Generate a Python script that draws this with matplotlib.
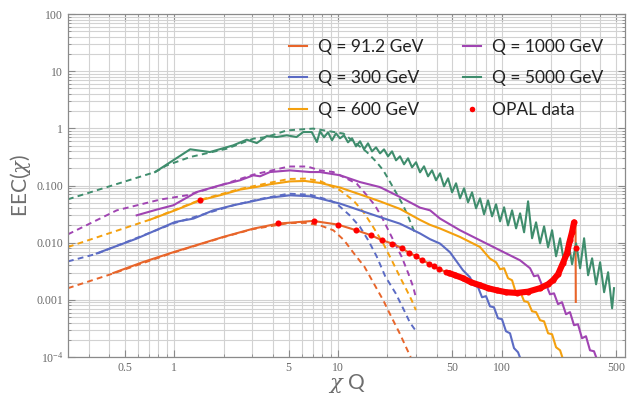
import matplotlib.pyplot as plt
from matplotlib.ticker import FixedLocator, FixedFormatter, LogLocator, NullFormatter
from matplotlib.lines import Line2D

plt.rcParams['font.family'] = ['Liberation Serif', 'DejaVu Serif']
plt.rcParams['mathtext.fontset'] = 'custom'
plt.rcParams['mathtext.rm'] = 'Lato'
plt.rcParams['mathtext.it'] = 'DejaVu Serif:italic'

# ---- data (x = chi*Q, y = EEC) ----
# Q = 91.2 GeV
q91_x = [0.424, 0.647, 1.0, 1.99, 3.04, 4.32, 7.06, 10.0, 12.9, 15.8, 18.6, 21.5, 24.5, 27.1, 30.0,
         32.7, 36.0, 41.4, 47.6, 58.0, 73.7, 93.1, 123.6, 171.4, 205.6, 236.7, 261.0, 276.6, 282.5, 283.5]
q91_y = [0.00295, 0.0046, 0.0069, 0.0126, 0.0176, 0.0216, 0.0240, 0.0207, 0.0165, 0.0136, 0.0110, 0.00964,
         0.0080, 0.0067, 0.00578, 0.00492, 0.00431, 0.00343, 0.00295, 0.00239, 0.0018, 0.00147, 0.00132,
         0.0016, 0.0022, 0.00441, 0.011, 0.0227, 0.021, 0.00092]
q91_dash_x = [0.224, 0.424, 1.0, 2.0, 3.0, 5.0, 6.3, 7.76, 9.36, 10.9, 12.5, 14.5, 16.6, 18.9, 21.2, 23.8, 26.6, 27.8]
q91_dash_y = [0.0016, 0.0029, 0.0068, 0.0125, 0.0172, 0.022, 0.0222, 0.0201, 0.0165, 0.011, 0.0065, 0.0038,
              0.0019, 0.00098, 0.0005, 0.00026, 0.00013, 0.0001]

# Q = 300 GeV
q300_x = [0.336, 0.589, 1.01, 1.31, 1.73, 2.29, 3.34, 3.84, 5.09, 6.75, 7.76, 10.3, 13.6, 18.0, 23.9, 31.7,
          36.5, 42.0, 48.3, 58.0, 64.0, 67.7, 71.7, 75.8, 80.2, 84.8, 89.7, 94.9, 100.4, 106.2, 112.4, 118.9,
          125.8, 131.2]
q300_y = [0.0065, 0.0118, 0.023, 0.0264, 0.0368, 0.0451, 0.0567, 0.0614, 0.0674, 0.0648, 0.059, 0.0482,
          0.0368, 0.0281, 0.0215, 0.0145, 0.0115, 0.00964, 0.0068, 0.00329, 0.00248, 0.0018, 0.00166,
          0.00111, 0.00116, 0.00077, 0.00074, 0.000476, 0.000458, 0.000282, 0.00026, 0.000143, 0.000121,
          0.000088]
q300_dash_x = [0.224, 0.336, 1.0, 2.29, 3.34, 5.0, 6.75, 8.93, 9.82, 11.8, 13.6, 15.3, 17.2, 19.4, 22.5,
               25.3, 27.5, 29.8]
q300_dash_y = [0.0047, 0.0064, 0.022, 0.045, 0.058, 0.072, 0.069, 0.055, 0.048, 0.030, 0.019, 0.011,
               0.0058, 0.0026, 0.0013, 0.00066, 0.00040, 0.00029]

# Q = 600 GeV
q600_x = [0.711, 1.01, 1.436, 1.90, 2.52, 3.34, 3.84, 5.09, 6.29, 7.76, 10.3, 13.6, 18.0, 23.9, 31.7, 36.5,
          42.0, 55.6, 73.7, 84.7, 92.4, 97.7, 103.4, 109.3, 115.7, 122.4, 129.5, 137.0, 144.9, 153.3, 162.1,
          171.5, 181.5, 192.0, 203.1, 214.8, 227.3, 240.4]
q600_y = [0.0253, 0.0368, 0.0551, 0.0674, 0.0848, 0.0968, 0.105, 0.118, 0.120, 0.111, 0.092, 0.070, 0.053,
          0.039, 0.025, 0.0205, 0.0177, 0.0126, 0.0084, 0.00527, 0.00454, 0.00343, 0.00357, 0.00239, 0.0022,
          0.0013, 0.00141, 0.00095, 0.00091, 0.00063, 0.00061, 0.00044, 0.00042, 0.00026, 0.00025,
          0.000148, 0.000131, 0.00008]
q600_dash_x = [0.224, 0.711, 1.436, 2.52, 3.84, 5.0, 6.3, 7.76, 10.3, 12.4, 14.3, 16.4, 18.9, 21.3, 23.9,
               26.3, 28.2, 29.9]
q600_dash_y = [0.0084, 0.0253, 0.056, 0.087, 0.112, 0.13, 0.132, 0.12, 0.0824, 0.055, 0.0344, 0.0188,
               0.00964, 0.00492, 0.00251, 0.00147, 0.00098, 0.00066]

# Q = 1000 GeV
q1000_x = [0.589, 0.781, 0.986, 1.37, 1.90, 2.52, 3.04, 3.34, 3.84, 5.09, 6.75, 7.76, 10.3, 13.6, 18.0,
           23.9, 31.7, 36.5, 42.0, 55.6, 73.7, 97.5, 129.4, 149.0, 157.5, 166.7, 176.3, 186.5, 197.2, 208.7,
           220.8, 233.5, 247.0, 261.3, 276.4, 292.4, 309.4, 327.2, 346.2, 366.3, 387.4]
q1000_y = [0.0301, 0.0379, 0.0451, 0.0769, 0.1008, 0.1233, 0.1508, 0.145, 0.172, 0.184, 0.172, 0.172, 0.151,
           0.115, 0.094, 0.063, 0.041, 0.0368, 0.0264, 0.0165, 0.011, 0.00736, 0.00492, 0.00357, 0.00259,
           0.00269, 0.0018, 0.00187, 0.00125, 0.0013, 0.00084, 0.00091, 0.00056, 0.00061, 0.00036, 0.000374,
           0.000213, 0.000231, 0.000131, 0.000126, 0.000081]
q1000_dash_x = [0.224, 0.445, 0.818, 1.19, 1.9, 3.04, 5.0, 6.5, 7.76, 9.36, 13.0, 15.0, 16.8, 18.5, 20.3,
                22.3, 24.5, 26.9, 28.8, 29.9]
q1000_dash_y = [0.014, 0.0368, 0.0567, 0.0674, 0.1, 0.155, 0.215, 0.215, 0.184, 0.172, 0.108, 0.0674,
                0.045, 0.0281, 0.0165, 0.00964, 0.00564, 0.00288, 0.00168, 0.0011]

# Q = 5000 GeV
q5000_x = [0.763, 1.25, 1.65, 2.29, 2.77, 3.19, 3.67, 4.22, 4.86, 5.58, 6.13, 6.91, 7.43,
           7.76, 8.21, 8.69, 9.19, 9.72, 10.28, 10.88, 11.51, 12.18, 12.88, 13.63, 14.42, 15.25, 16.13,
           17.07, 18.06, 19.10, 20.21, 21.38, 22.61, 23.92, 25.31, 26.77, 28.32, 29.96, 31.70, 33.53, 35.48,
           37.53, 39.71, 42.00, 44.43, 47.01, 49.73, 52.61, 55.65, 58.88, 62.28, 65.89, 69.70, 73.74, 78.01,
           82.53, 87.31, 92.36, 97.71, 103.4, 109.3, 115.7, 122.4, 129.5, 137.0, 144.9, 153.3, 162.1, 171.5,
           181.5, 192.0, 203.1, 214.8, 227.3, 240.4, 254.4, 269.1, 284.7, 301.2, 318.6, 337.1, 356.6, 377.2,
           399.1, 422.2, 446.6, 472.5, 485.3]
q5000_y = [0.172, 0.43, 0.385, 0.504, 0.634, 0.553, 0.733, 0.705, 0.755, 0.705, 0.862, 0.862, 0.576,
           0.887, 0.697, 0.852, 0.617, 0.818, 0.669, 0.755, 0.569, 0.669, 0.484,
           0.593, 0.429, 0.547, 0.396, 0.465, 0.365, 0.429, 0.324, 0.396, 0.276,
           0.324, 0.235, 0.299, 0.208, 0.255, 0.170, 0.2166, 0.1448, 0.1844, 0.1233,
           0.1634, 0.0968, 0.1336, 0.076, 0.1093, 0.0597, 0.0893, 0.0508, 0.076, 0.040,
           0.0597, 0.0313, 0.0551, 0.0289, 0.0469, 0.0236, 0.0416, 0.0201, 0.0368, 0.0178,
           0.0326, 0.0152, 0.0529, 0.01194, 0.0227, 0.00975, 0.0193, 0.0083, 0.0165, 0.00578,
           0.01194, 0.00454, 0.0110, 0.00419, 0.00975, 0.00356, 0.01194, 0.00269, 0.00533, 0.00187,
           0.00454, 0.00136, 0.00304, 0.00071, 0.0016]
q5000_dash_x = [0.224, 0.763, 0.9, 1.25, 2.09, 3.04, 3.67, 4.86, 7.06, 10.8, 15.0, 17.2, 18.9, 20.8, 22.8,
                25.0, 26.9, 29.3]
q5000_dash_y = [0.0574, 0.172, 0.2255, 0.315, 0.44, 0.66, 0.705, 0.92, 0.99, 0.81, 0.385, 0.257, 0.184,
                0.115, 0.0722, 0.045, 0.0281, 0.0154]

# OPAL data
opal_x = [1.436, 4.32, 7.17, 10.0, 12.9, 15.8, 18.6, 21.5, 24.5, 27.1, 30.0, 32.7, 36.0, 38.6, 41.4, 45.5,
          47.6, 51.9, 58.0, 64.9, 73.7, 82.5, 93.1, 106.2, 123.6, 144.8, 171.4, 191.8, 205.6, 220.8, 236.7,
          250.5, 261.0, 268.7, 276.6, 283.3]
opal_y = [0.055, 0.0221, 0.024, 0.0207, 0.0165, 0.0136, 0.0110, 0.00964, 0.0080, 0.0067, 0.00578, 0.00492,
          0.00431, 0.00387, 0.00343, 0.00307, 0.00295, 0.00269, 0.00239, 0.00203, 0.0018, 0.0016, 0.00147,
          0.00136, 0.00132, 0.00139, 0.0016, 0.00187, 0.0022, 0.0028, 0.00441, 0.00653, 0.011, 0.0152,
          0.0227, 0.008]

labels = ["Q = 91.2 GeV", "Q = 300 GeV", "Q = 600 GeV", "Q = 1000 GeV", "Q = 5000 GeV", "OPAL data"]
colors = ["#E8652A", "#5B6BC4", "#F4A00E", "#A044B2", "#3F8D6D"]

fig = plt.figure(figsize=(6.31, 4.05), dpi=100)
ax = fig.add_axes([0.1078, 0.1185, 0.8827, 0.8469])
ax.set_xscale('log')
ax.set_yscale('log')

solid = [(q91_x, q91_y), (q300_x, q300_y), (q600_x, q600_y), (q1000_x, q1000_y), (q5000_x, q5000_y)]
dashed = [(q91_dash_x, q91_dash_y), (q300_dash_x, q300_dash_y), (q600_dash_x, q600_dash_y),
          (q1000_dash_x, q1000_dash_y), (q5000_dash_x, q5000_dash_y)]

for (dx, dy), c in zip(dashed, colors):
    ax.plot(dx, dy, color=c, lw=1.4, dashes=(3, 2.2), zorder=2)
for (sx, sy), c in zip(solid, colors):
    ax.plot(sx, sy, color=c, lw=1.5, zorder=3)

# dense part of the OPAL data looks like a thick line
ax.plot(opal_x[16:-1], opal_y[16:-1], color='red', lw=4.4, solid_capstyle='round', zorder=4)
ax.plot(opal_x, opal_y, 'o', color='red', ms=4.4, mec='none', zorder=5)

ax.set_xlim(0.2242, 566.5)
ax.set_ylim(1e-4, 100)

xmaj = [0.5, 1, 5, 10, 50, 100, 500]
ax.xaxis.set_major_locator(FixedLocator(xmaj))
ax.xaxis.set_major_formatter(FixedFormatter(["0.5", "1", "5", "10", "50", "100", "500"]))
ax.xaxis.set_minor_locator(LogLocator(base=10, subs=range(1, 10), numticks=20))
ax.xaxis.set_minor_formatter(NullFormatter())

ymaj = [1e-4, 1e-3, 1e-2, 1e-1, 1, 10, 100]
ax.yaxis.set_major_locator(FixedLocator(ymaj))
ax.yaxis.set_major_formatter(FixedFormatter([r"$\mathdefault{10^{-4}}$", "0.001", "0.010", "0.100", "1", "10", "100"]))
ax.yaxis.set_minor_locator(LogLocator(base=10, subs=range(2, 10), numticks=20))
ax.yaxis.set_minor_formatter(NullFormatter())

ax.grid(True, which='both', color='#d2d2d2', lw=0.8)
ax.set_axisbelow(True)
ax.tick_params(which='both', direction='in', top=True, right=True, color='#8a8a8a',
               labelcolor='#6a6a6a', labelsize=8.5)
ax.tick_params(which='major', length=5, width=0.8)
ax.tick_params(which='minor', length=2.5, width=0.6)
for s in ax.spines.values():
    s.set_color('#8a8a8a')
    s.set_linewidth(0.9)

ax.set_ylabel(r"EEC$(\chi)$", family='Lato', fontsize=15, color='#6e6e6e')
ax.yaxis.set_label_coords(-0.062, 0.5)
ax.set_xlabel(r"$\chi$ Q", family='Lato', fontsize=15, color='#6e6e6e')
ax.xaxis.set_label_coords(0.5, -0.045)

handles = [Line2D([], [], color=c, lw=1.5) for c in colors]
handles.append(Line2D([], [], ls='none', marker='o', color='red', ms=4, mec='none'))
ax.legend(handles, labels, ncol=2, loc='upper left', bbox_to_anchor=(0.397, 0.927), frameon=False,
          prop={'family': 'Lato', 'size': 12.5}, labelcolor='#222222', handlelength=1.05,
          handletextpad=0.6, columnspacing=2.3, labelspacing=0.88, borderaxespad=0, borderpad=0)

fig.savefig("out.png", dpi=100)
